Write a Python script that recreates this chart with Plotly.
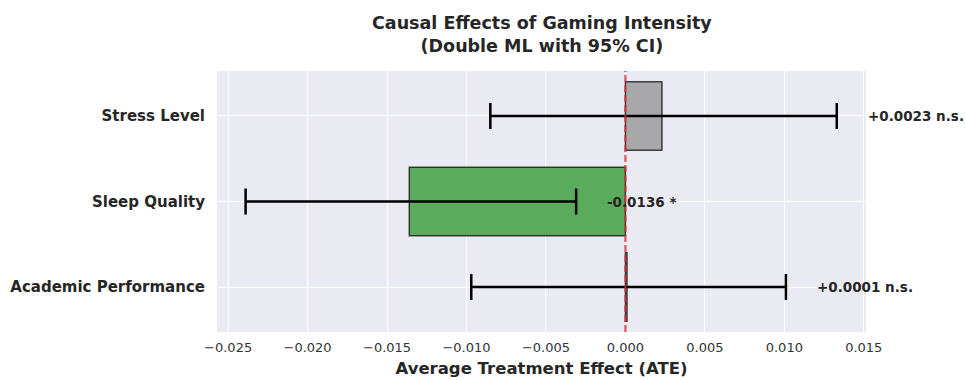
import plotly.graph_objects as go

# Double ML estimates of gaming intensity on each outcome
outcomes = ["Academic Performance", "Sleep Quality", "Stress Level"]
ate = [0.0001, -0.0136, 0.0023]
ci_low = [-0.0097, -0.0239, -0.0085]
ci_high = [0.0101, -0.0031, 0.0133]
sig_marks = ["n.s.", "*", "n.s."]
x_ticks = [-0.025, -0.020, -0.015, -0.010, -0.005, 0.000, 0.005, 0.010, 0.015]

SIG_COLOR = "#5aab5c"
NS_COLOR = "#a8a8aa"

colors = [SIG_COLOR if s != "n.s." else NS_COLOR for s in sig_marks]
err_plus = [h - a for h, a in zip(ci_high, ate)]
err_minus = [a - l for a, l in zip(ate, ci_low)]

fig = go.Figure()
fig.add_trace(go.Bar(
    x=ate,
    y=outcomes,
    orientation="h",
    width=0.8,
    marker=dict(color=colors, line=dict(color="rgba(0,0,0,0.7)", width=1.5)),
    error_x=dict(type="data", symmetric=False, array=err_plus, arrayminus=err_minus,
                 color="black", thickness=2.5, width=13),
    showlegend=False,
    hoverinfo="skip",
))

# value labels anchored at the upper CI bound, nudged to the right
for o, a, h, s in zip(outcomes, ate, ci_high, sig_marks):
    fig.add_annotation(
        x=h, y=o, xref="x", yref="y",
        text=f"<b>{a:+.4f} {s}</b>",
        xanchor="left", yanchor="middle", xshift=29,
        showarrow=False,
        font=dict(family="DejaVu Sans", size=13.5, color="#262626"),
    )

# zero-effect reference line
fig.add_shape(type="line", x0=0, x1=0, xref="x", yref="paper", y0=0, y1=1,
              line=dict(color="rgba(225,40,50,0.8)", width=2.2, dash="7px,3px"),
              layer="above")

# two-line bold title
fig.add_annotation(
    text="<b>Causal Effects of Gaming Intensity<br>(Double ML with 95% CI)</b>",
    x=0.5, xref="paper", xanchor="center",
    y=(332 - 11) / 261, yref="paper", yanchor="top",
    showarrow=False,
    font=dict(family="DejaVu Sans", size=17.5, color="#262626"),
)

fig.update_layout(
    width=965, height=380,
    margin=dict(l=217, r=99, t=71, b=48),
    paper_bgcolor="white",
    plot_bgcolor="#eaeaf2",
    font=dict(family="DejaVu Sans", color="#262626"),
    xaxis=dict(
        range=[-0.0257, 0.01514],
        tickvals=x_ticks,
        tickformat=".3f",
        showgrid=True, gridcolor="white", gridwidth=1,
        zeroline=False,
        tickfont=dict(family="DejaVu Sans", size=13, color="#333333"),
        ticks="", ticklabelstandoff=6,
        automargin=False,
        title=dict(text="<b>Average Treatment Effect (ATE)</b>",
                   font=dict(family="DejaVu Sans", size=16.5, color="#262626"),
                   standoff=8),
    ),
    yaxis=dict(
        range=[-0.526, 2.526],
        tickvals=outcomes,
        ticktext=[f"<b>{o}</b>" for o in outcomes],
        showgrid=True, gridcolor="white", gridwidth=1,
        zeroline=False,
        tickfont=dict(family="DejaVu Sans", size=15, color="#262626"),
        ticks="", ticklabelstandoff=11,
        automargin=False,
    ),
)

fig.write_html("out.html")
